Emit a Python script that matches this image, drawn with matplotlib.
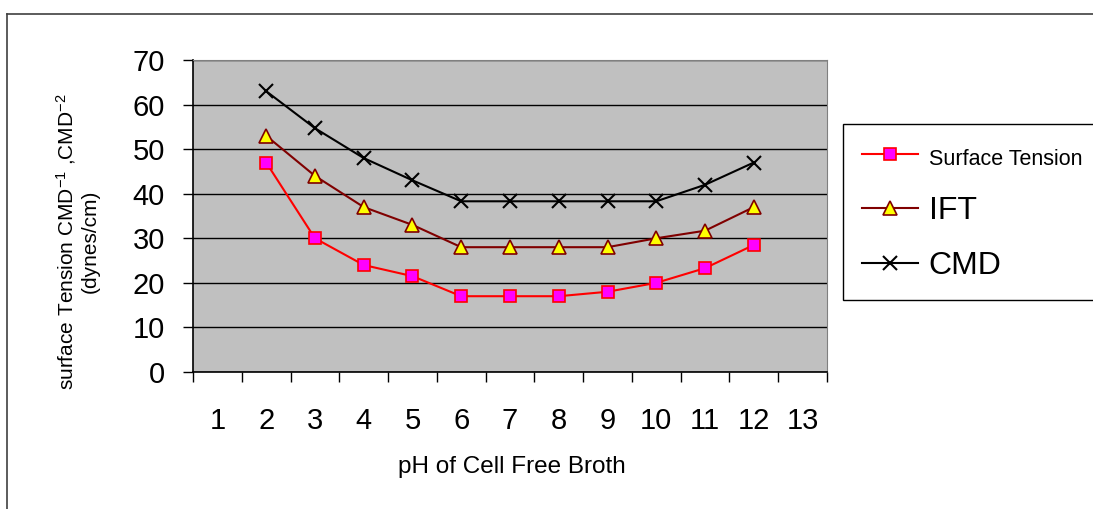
import matplotlib
matplotlib.use("Agg")
import matplotlib.pyplot as plt
from matplotlib.lines import Line2D
import numpy as np

plt.rcParams['font.family'] = ['Liberation Sans', 'DejaVu Sans']
plt.rcParams['mathtext.fontset'] = 'custom'
plt.rcParams['mathtext.rm'] = 'Liberation Sans'
plt.rcParams['mathtext.it'] = 'Liberation Sans'

# data
ph = [2, 3, 4, 5, 6, 7, 8, 9, 10, 11, 12]
surface_tension = [47, 30, 24, 21.5, 17, 17, 17, 18, 20, 23.3, 28.5]
ift = [53, 44, 37, 33, 28, 28, 28, 28, 30, 31.7, 37]
cmd = [63, 54.7, 48, 43, 38.3, 38.3, 38.3, 38.3, 38.3, 42, 47]
categories = list(range(1, 14))

fig = plt.figure(figsize=(10.93, 5.09), dpi=100)
ax = fig.add_axes([0.1766, 0.2692, 0.58, 0.6129])
ax.set_facecolor('#C0C0C0')

ax.plot(ph, surface_tension, color='#FF0000', lw=1.5, marker='s', ms=8,
        mfc='#FF00FF', mec='#FF0000', mew=1.2, label='Surface Tension', zorder=3)
ax.plot(ph, ift, color='#800000', lw=1.5, marker='^', ms=9.5,
        mfc='#FFFF00', mec='#800000', mew=1.2, label='IFT', zorder=3)
ax.plot(ph, cmd, color='black', lw=1.5, marker='x', ms=10, mew=1.5,
        label='CMD', zorder=3)

ax.set_xlim(0.5, 13.5)
ax.set_ylim(0, 70)
ax.set_yticks(np.arange(0, 71, 10))
ax.yaxis.grid(True, color='black', lw=1)
ax.set_axisbelow(True)
ax.tick_params(axis='y', length=7.2, width=1, pad=13, labelsize=21)

ax.set_xticks(np.arange(0.5, 13.6, 1))
ax.set_xticklabels([])
ax.tick_params(axis='x', which='major', length=7.2, width=1)
ax.set_xticks(categories, minor=True)
ax.set_xticklabels([str(c) for c in categories], minor=True)
ax.tick_params(axis='x', which='minor', length=0, pad=25, labelsize=21)

for side in ['top', 'right']:
    ax.spines[side].set_color('#808080')
for side in ['left', 'bottom']:
    ax.spines[side].set_color('black')
    ax.spines[side].set_linewidth(1.2)

fig.text(0.0705, 0.525, 'surface Tension CMD$^{-1}$ ,CMD$^{-2}$\n(dynes/cm)',
         rotation=90, ha='center', va='center', multialignment='center', fontsize=15)
fig.text(0.4685, 0.0825, 'pH of Cell Free Broth', ha='center', va='center', fontsize=17.5)

leg = fig.legend(loc='upper left', bbox_to_anchor=(0.771, 0.757), borderaxespad=0,
                 frameon=True, fancybox=False, edgecolor='black', framealpha=1,
                 borderpad=0.6, handlelength=1.75, handletextpad=0.34,
                 labelspacing=0.8, fontsize=23)
leg.get_frame().set_linewidth(1)
leg.get_texts()[0].set_fontsize(15.5)

# outer chart border (left and top edges visible)
fig.add_artist(Line2D([0.0064, 0.0064], [0.0, 0.9725], transform=fig.transFigure,
                      color='#404040', lw=1.2))
fig.add_artist(Line2D([0.0064, 1.0], [0.9725, 0.9725], transform=fig.transFigure,
                      color='#404040', lw=1.2))

fig.savefig('out.png', dpi=100)
